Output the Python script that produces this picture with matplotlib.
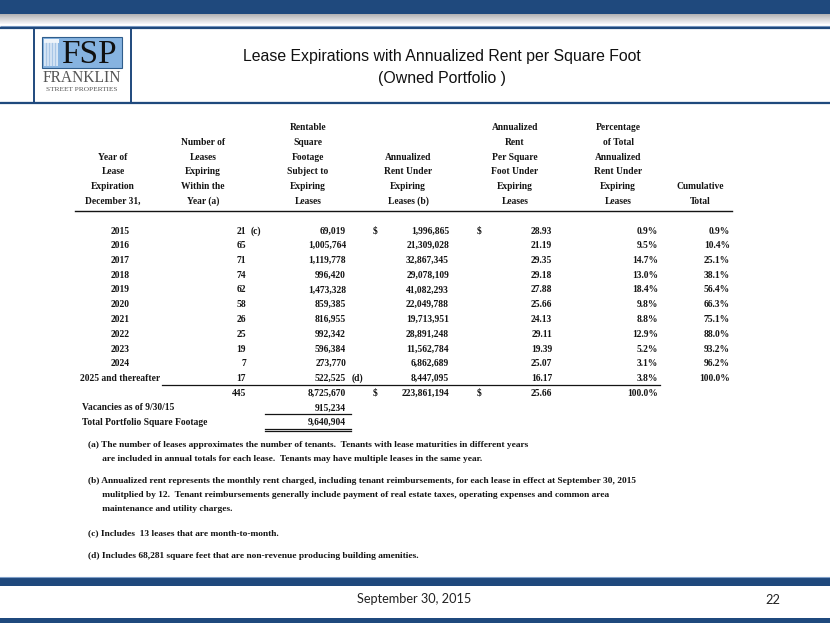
import matplotlib
matplotlib.use('Agg')
import numpy as np
import matplotlib.pyplot as plt
from matplotlib import font_manager
from matplotlib.patches import Rectangle

#
# Table data
#
years = ['2015', '2016', '2017', '2018', '2019', '2020', '2021', '2022', '2023', '2024',
         '2025 and thereafter']
num_leases = [21, 65, 71, 74, 62, 58, 26, 25, 19, 7, 17]
square_feet = [69019, 1005764, 1119778, 996420, 1473328, 859385, 816955, 992342, 596384,
               273770, 522525]
annual_rent = [1996865, 21309028, 32867345, 29078109, 41082293, 22049788, 19713951,
               28891248, 11562784, 6862689, 8447095]
rent_psf = [28.93, 21.19, 29.35, 29.18, 27.88, 25.66, 24.13, 29.11, 19.39, 25.07, 16.17]
pct_of_total = [0.9, 9.5, 14.7, 13.0, 18.4, 9.8, 8.8, 12.9, 5.2, 3.1, 3.8]
cumulative = [0.9, 10.4, 25.1, 38.1, 56.4, 66.3, 75.1, 88.0, 93.2, 96.2, 100.0]

total_leases = 445
total_sqft = 8725670
total_rent = 223861194
total_psf = 25.66
total_pct = 100.0
vacancies_sqft = 915234
portfolio_sqft = 9640904

header_cols = [
    ['Year of', 'Lease', 'Expiration', 'December 31,'],
    ['Number of', 'Leases', 'Expiring', 'Within the', 'Year (a)'],
    ['Rentable', 'Square', 'Footage', 'Subject to', 'Expiring', 'Leases'],
    ['Annualized', 'Rent Under', 'Expiring', 'Leases (b)'],
    ['Annualized', 'Rent', 'Per Square', 'Foot Under', 'Expiring', 'Leases'],
    ['Percentage', 'of Total', 'Annualized', 'Rent Under', 'Expiring', 'Leases'],
    ['Cumulative', 'Total'],
]

footnotes = [
    ['(a) The number of leases approximates the number of tenants.  Tenants with lease maturities in different years',
     '      are included in annual totals for each lease.  Tenants may have multiple leases in the same year.'],
    ['(b) Annualized rent represents the monthly rent charged, including tenant reimbursements, for each lease in effect at September 30, 2015',
     '      mulitplied by 12.  Tenant reimbursements generally include payment of real estate taxes, operating expenses and common area',
     '      maintenance and utility charges.'],
    ['(c) Includes  13 leases that are month-to-month.'],
    ['(d) Includes 68,281 square feet that are non-revenue producing building amenities.'],
]

title_lines = ['Lease Expirations with Annualized Rent per Square Foot', '(Owned Portfolio )']
footer_date = 'September 30, 2015'
page_number = '22'


def pick_font(names):
    for n in names:
        try:
            font_manager.findfont(n, fallback_to_default=False)
            return n
        except ValueError:
            continue
    return 'DejaVu Sans'


def main():

    #
    # 0. Settings
    #
    blue = '#1F497D'
    light_blue = '#7F9FC8'
    ink = '#141414'
    serif = pick_font(['Liberation Serif', 'DejaVu Serif'])
    narrow = pick_font(['Liberation Sans Narrow'])
    if narrow == 'DejaVu Sans':
        title_font, title_size = pick_font(['Liberation Sans']), 11.4
    else:
        title_font, title_size = narrow, 13.8
    footer_font = pick_font(['Lato', 'Open Sans'])
    fs = 6.85
    note_fs = 6.75

    fig = plt.figure(figsize=(8.3, 6.23), dpi=100)
    ax = fig.add_axes([0, 0, 1, 1])
    ax.set_xlim(0, 830)
    ax.set_ylim(623, 0)
    ax.axis('off')

    #
    # A. Slide frame (top bar, header box, footer)
    #
    ax.add_patch(Rectangle((0, 0), 830, 14, color=blue, lw=0))
    shade = np.linspace(0.72, 1.0, 40).reshape(-1, 1)
    ax.imshow(np.dstack([shade * 0.97, shade * 0.97, shade * 0.98]),
              extent=(0, 830, 24, 14), aspect='auto', zorder=0)
    for y, c, w in [(26.2, light_blue, 0.8), (27.6, blue, 1.6), (102.0, light_blue, 0.8), (103.4, blue, 1.6)]:
        ax.plot([0, 830], [y, y], color=c, lw=w, solid_capstyle='butt')
    for x in [34, 131]:
        ax.plot([x, x], [27.6, 103.4], color=blue, lw=1.4)

    ax.add_patch(Rectangle((0, 578), 830, 7.5, color=blue, lw=0))
    ax.plot([0, 830], [577, 577], color=light_blue, lw=0.8)
    ax.add_patch(Rectangle((0, 618), 830, 5, color=blue, lw=0))
    ax.text(414, 599, footer_date, ha='center', va='center', fontfamily=footer_font,
            fontsize=9.2, color='#222222')
    ax.text(773, 600, page_number, ha='center', va='center', fontfamily=footer_font,
            fontsize=9.2, color='#222222')

    #
    # B. Logo
    #
    ax.add_patch(Rectangle((42, 37), 80, 31, facecolor='#86B3E0', edgecolor='#2F5D8C', lw=0.8))
    ax.add_patch(Rectangle((44, 39), 14, 27, facecolor='#D6E6F5', lw=0))
    for fx in [46, 49, 52, 55]:
        ax.plot([fx, fx], [43, 65], color='#A8C6E6', lw=0.9)
    ax.add_patch(Rectangle((43.5, 39), 15, 3.5, facecolor='#EEF4FA', lw=0))
    ax.text(89, 55, 'FSP', ha='center', va='center', fontfamily=serif, fontsize=24,
            color='#101010')
    ax.text(82, 78.5, 'FRANKLIN', ha='center', va='center', fontfamily=serif, fontsize=11.2,
            color='#555555')
    ax.text(82, 89.5, 'STREET PROPERTIES', ha='center', va='center', fontfamily=serif,
            fontsize=5.3, color='#555555')

    #
    # C. Title
    #
    for i, line in enumerate(title_lines):
        ax.text(442, 57 + i * 21, line, ha='center', va='center', fontfamily=title_font,
                fontsize=title_size, color='#111111')

    #
    # D. Table
    #
    def put(x, y, s, ha='center', size=fs):
        ax.text(x, y, s, ha=ha, va='center', fontfamily=serif, fontsize=size,
                fontweight='bold', color=ink)

    head_x = [113, 203, 308, 408, 515, 618, 700]
    head_y0, head_dy = 128, 14.65
    for cx, lines in zip(head_x, header_cols):
        start = 6 - len(lines)
        for j, s in enumerate(lines):
            put(cx, head_y0 + (start + j) * head_dy, s)
    ax.plot([75, 732], [211, 211], color=ink, lw=1.0)

    row_y0, row_dy = 231, 14.75
    for i in range(len(years)):
        y = row_y0 + i * row_dy
        put(120, y, years[i])
        put(246, y, f'{num_leases[i]}', ha='right')
        put(346, y, f'{square_feet[i]:,}', ha='right')
        put(449, y, f'{annual_rent[i]:,}', ha='right')
        put(552, y, f'{rent_psf[i]:.2f}', ha='right')
        put(658, y, f'{pct_of_total[i]:.1f}%', ha='right')
        put(730, y, f'{cumulative[i]:.1f}%', ha='right')
        if i == 0:
            put(251, y, '(c)', ha='left')
            put(375, y, '$')
            put(479, y, '$')
        if i == len(years) - 1:
            put(352, y, '(d)', ha='left')

    n = len(years)
    y_line = row_y0 + (n - 1) * row_dy + 6.5
    ax.plot([162, 660], [y_line, y_line], color=ink, lw=0.9)

    y_tot = row_y0 + n * row_dy
    put(246, y_tot, f'{total_leases}', ha='right')
    put(346, y_tot, f'{total_sqft:,}', ha='right')
    put(375, y_tot, '$')
    put(449, y_tot, f'{total_rent:,}', ha='right')
    put(479, y_tot, '$')
    put(552, y_tot, f'{total_psf:.2f}', ha='right')
    put(658, y_tot, f'{total_pct:.1f}%', ha='right')

    y_vac = y_tot + row_dy
    put(82, y_vac, 'Vacancies as of 9/30/15', ha='left')
    put(346, y_vac, f'{vacancies_sqft:,}', ha='right')
    ax.plot([265, 351], [y_vac + 6, y_vac + 6], color=ink, lw=0.9)

    y_port = y_vac + row_dy
    put(82, y_port, 'Total Portfolio Square Footage', ha='left')
    put(346, y_port, f'{portfolio_sqft:,}', ha='right')
    for dy in [6.5, 8.5]:
        ax.plot([265, 351], [y_port + dy, y_port + dy], color=ink, lw=0.9)

    #
    # E. Footnotes
    #
    note_y = [445, 481, 533, 556]
    for y0, lines in zip(note_y, footnotes):
        for j, s in enumerate(lines):
            put(88, y0 + j * 14, s, ha='left', size=note_fs)

    fig.savefig('out.png', dpi=100)


if __name__ == '__main__':
    main()
